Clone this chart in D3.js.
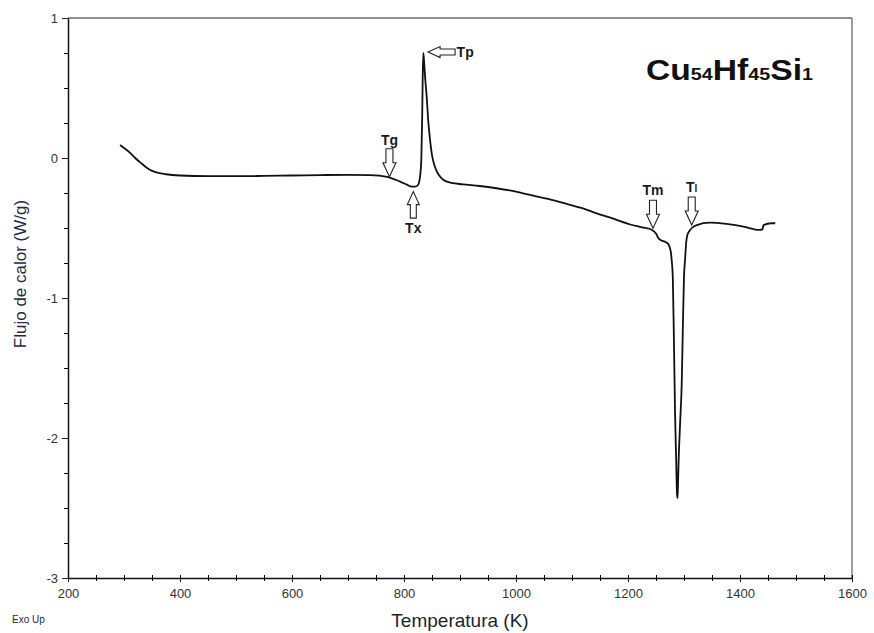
<!DOCTYPE html>
<html>
<head>
<meta charset="utf-8">
<script src="https://cdn.jsdelivr.net/npm/d3@7/dist/d3.min.js"></script>
<style>
  html, body { margin: 0; padding: 0; background: #fff; }
  svg { display: block; font-family: "Liberation Sans", Arial, sans-serif; }
</style>
</head>
<body>
<svg id="chart" width="874" height="633"></svg>
<script>
// DSC trace: temperature (K) and heat flow (W/g)
const temperature = [
  293, 300, 310, 320, 330, 340, 350, 360, 375, 400, 450, 500, 550, 600, 650, 700, 740,
  770, 793, 805, 814, 820, 825, 829, 831, 832.5, 833.5, 834.5, 836, 838, 840.5, 843,
  846.5, 850, 855, 862, 870, 885, 905, 935, 965, 1000, 1025, 1055, 1084, 1115, 1144,
  1175, 1204, 1225, 1243, 1250, 1254, 1260, 1266, 1272, 1276, 1278, 1280, 1282, 1284,
  1286, 1287.5, 1288.5, 1289.5, 1290.5, 1293, 1296, 1298, 1300, 1302, 1304, 1306, 1310,
  1314, 1323, 1346, 1376, 1406, 1435, 1440, 1442, 1456, 1463
];
const heatFlow = [
  0.093, 0.072, 0.04, 0.0, -0.035, -0.068, -0.092, -0.105, -0.116, -0.125, -0.13, -0.13, -0.128, -0.125, -0.122, -0.12, -0.122,
  -0.134, -0.169, -0.19, -0.205, -0.205, -0.193, -0.12, 0.0, 0.3, 0.6, 0.75, 0.68, 0.56, 0.44, 0.28,
  0.13, 0.02, -0.06, -0.12, -0.155, -0.178, -0.188, -0.2, -0.216, -0.24, -0.264, -0.29, -0.321, -0.355, -0.395,
  -0.435, -0.475, -0.495, -0.514, -0.54, -0.571, -0.59, -0.598, -0.615, -0.66, -0.73, -0.85, -1.3, -1.82,
  -2.15, -2.4, -2.43, -2.3, -2.15, -1.9, -1.6, -1.2, -0.85, -0.72, -0.6, -0.55, -0.52,
  -0.5, -0.479, -0.462, -0.471, -0.49, -0.514, -0.51, -0.479, -0.466, -0.466
];

const xTicks = [200, 400, 600, 800, 1000, 1200, 1400, 1600];
const yTicks = [-3, -2, -1, 0, 1];

// Characteristic temperatures marked with hollow arrows
const markerNames = ["Tg", "Tx", "Tp", "Tm", "Tl"];
const markerTemps = [774, 816.6, 843, 1244.6, 1313.8];
const markerFlows = [-0.134, -0.24, 0.757, -0.502, -0.479];
const markerDirs  = ["down", "up", "left", "down", "down"];

const svg = d3.select("#chart");
const x = d3.scaleLinear().domain([200, 1600]).range([68, 852]);
const y = d3.scaleLinear().domain([-3, 1]).range([578, 18]);

// frame (top and right)
svg.append("line").attr("x1", x(200)).attr("x2", x(1600)).attr("y1", y(1)).attr("y2", y(1))
  .attr("stroke", "#6a6a6a").attr("stroke-width", 1.3);
svg.append("line").attr("x1", x(1600)).attr("x2", x(1600)).attr("y1", y(1)).attr("y2", y(-3))
  .attr("stroke", "#6a6a6a").attr("stroke-width", 1.3);

// minor ticks
const xMinor = d3.range(200, 1601, 50);
const yMinor = d3.range(-3, 1.001, 0.25);
svg.append("g").attr("transform", `translate(0,${y(-3)})`)
  .call(d3.axisTop(x).tickValues(xMinor).tickSize(3).tickFormat(""))
  .call(g => g.select(".domain").remove());
svg.append("g").attr("transform", `translate(0,${y(-3)})`)
  .call(d3.axisBottom(x).tickValues(xMinor).tickSize(3).tickFormat(""))
  .call(g => g.select(".domain").remove());
svg.append("g").attr("transform", `translate(${x(200)},0)`)
  .call(d3.axisLeft(y).tickValues(yMinor).tickSize(4).tickFormat(""))
  .call(g => g.select(".domain").remove());

// main axes
const xAxis = svg.append("g").attr("transform", `translate(0,${y(-3)})`)
  .call(d3.axisBottom(x).tickValues(xTicks).tickSize(4).tickSizeOuter(0).tickPadding(4).tickFormat(d3.format("d")));
const yAxis = svg.append("g").attr("transform", `translate(${x(200)},0)`)
  .call(d3.axisLeft(y).tickValues(yTicks).tickSize(6).tickSizeOuter(0).tickPadding(4).tickFormat(d => d < 0 ? "-" + Math.abs(d) : String(d)));
[xAxis, yAxis].forEach(a => {
  a.select(".domain").attr("stroke", "#111").attr("stroke-width", 1.5);
  a.selectAll(".tick line").attr("stroke", "#222");
  a.selectAll(".tick text").attr("fill", "#333").attr("font-size", 13)
    .attr("font-family", "'Liberation Sans', Arial, sans-serif");
});
xAxis.selectAll(".tick text").attr("dy", "0.9em");

// curve
const pts = temperature.map((t, i) => [t, heatFlow[i]]);
svg.append("path").datum(pts)
  .attr("fill", "none").attr("stroke", "#111").attr("stroke-width", 1.8)
  .attr("stroke-linejoin", "round")
  .attr("d", d3.line().x(d => x(d[0])).y(d => y(d[1])).curve(d3.curveMonotoneX));

// hollow block arrows with labels
const arrowDown = "M0,0 L-6.5,-14 L-3.5,-14 L-3.5,-28 L3.5,-28 L3.5,-14 L6.5,-14 Z";
const arrowUp = "M0,0 L-6,13 L-3,13 L-3,26.5 L3,26.5 L3,13 L6,13 Z";
const arrowLeft = "M0,0 L12,-5.5 L12,-3 L27,-3 L27,3 L12,3 L12,5.5 Z";
markerNames.forEach((name, i) => {
  const g = svg.append("g").attr("transform", `translate(${x(markerTemps[i])},${y(markerFlows[i])})`);
  const dir = markerDirs[i];
  g.append("path")
    .attr("d", dir === "down" ? arrowDown : dir === "up" ? arrowUp : arrowLeft)
    .attr("fill", "#fff").attr("stroke", "#222").attr("stroke-width", 1.1);
  const t = g.append("text").attr("font-size", 14).attr("font-weight", "bold").attr("fill", "#1a1a1a");
  if (dir === "down") {
    const off = name === "Tg" ? -32 : -33;
    t.attr("x", 0).attr("y", off).attr("text-anchor", "middle");
  } else if (dir === "up") {
    t.attr("x", 0).attr("y", 41).attr("text-anchor", "middle");
  } else {
    t.attr("x", 28.5).attr("y", 5).attr("text-anchor", "start");
  }
  if (name === "Tl") {
    t.append("tspan").text("T");
    t.append("tspan").attr("font-size", 10).text("l");
  } else {
    t.text(name);
  }
});

// composition title
const title = svg.append("text").attr("x", 646).attr("y", 80)
  .attr("font-weight", "bold").attr("fill", "#111").attr("font-size", 29)
  .attr("textLength", 167).attr("lengthAdjust", "spacingAndGlyphs");
[["Cu", 29], ["54", 17], ["Hf", 29], ["45", 17], ["Si", 29], ["1", 17]].forEach(([s, fs]) => {
  title.append("tspan").attr("font-size", fs).text(s);
});

// axis titles
svg.append("text").attr("x", x(900)).attr("y", 627).attr("text-anchor", "middle")
  .attr("font-size", 19).attr("fill", "#1c1f2a").text("Temperatura (K)");
svg.append("text").attr("transform", "translate(26,274) rotate(-90)").attr("text-anchor", "middle")
  .attr("font-size", 17).attr("fill", "#1f2a44").text("Flujo de calor (W/g)");
svg.append("text").attr("x", 12).attr("y", 623)
  .attr("font-size", 10).attr("fill", "#1f2a44").text("Exo Up");
</script>
</body>
</html>
